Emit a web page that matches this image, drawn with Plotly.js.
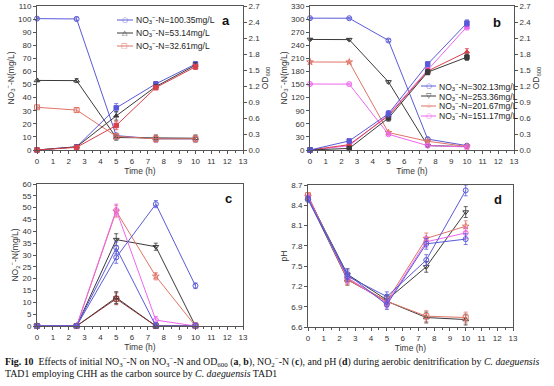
<!DOCTYPE html>
<html><head><meta charset="utf-8">
<script src="https://cdn.plot.ly/plotly-3.0.1.min.js"></script>
<style>html,body{margin:0;padding:0;background:#fff;}#chart{width:554px;height:386px;}</style>
</head><body><div id="chart"></div>
<script>
// ---- data ----
const time = [0, 2.5, 5, 7.5, 10];
const xTicks = [0,1,2,3,4,5,6,7,8,9,10,11,12,13];

// panel a: NO3--N (mg/L) and OD600
const aNames = ['NO<sub>3</sub><sup>−</sup>-N=100.35mg/L','NO<sub>3</sub><sup>−</sup>-N=53.14mg/L','NO<sub>3</sub><sup>−</sup>-N=32.61mg/L'];
const aNO3_100 = [100.35, 100.1, 11, 8.5, 8.5];
const aNO3_53  = [53.14, 53.0, 9.5, 9, 9];
const aNO3_32  = [32.61, 30.5, 10.5, 8.5, 8.5];
const aNO3Err  = [1, 1.5, 2, 2.5, 2.5];
const aOD_100  = [0, 0.06, 0.79, 1.24, 1.61];
const aOD_53   = [0, 0.06, 0.64, 1.19, 1.59];
const aOD_32   = [0, 0.05, 0.46, 1.17, 1.56];
const aODErr   = [0.01, 0.02, 0.08, 0.04, 0.05];

// panel b
const bNames = ['NO<sub>3</sub><sup>−</sup>-N=302.13mg/L','NO<sub>3</sub><sup>−</sup>-N=253.36mg/L','NO<sub>3</sub><sup>−</sup>-N=201.67mg/L','NO<sub>3</sub><sup>−</sup>-N=151.17mg/L'];
const bNO3_302 = [302.13, 302, 251, 25, 10];
const bNO3_253 = [253.36, 253, 156, 10, 8];
const bNO3_201 = [201.67, 201.5, 40, 20, 8];
const bNO3_151 = [151.17, 151, 36, 10, 7];
const bNO3Err  = [2, 2, 3, 3, 2];
const bOD_302  = [0, 0.17, 0.68, 1.61, 2.38];
const bOD_253  = [0, 0.03, 0.60, 1.46, 1.74];
const bOD_201  = [0, 0.10, 0.64, 1.48, 1.84];
const bOD_151  = [0, 0.08, 0.66, 1.50, 2.31];
const bODErr   = [0.01, 0.03, 0.06, 0.05, 0.06];

// panel c: NO2--N (mg/L)
const cNO2_100 = [0, 0, 33, 0, 0];
const cNO2_53  = [0, 0, 12, 0, 0];
const cNO2_32  = [0, 0, 11.5, 0, 0];
const cNO2_302 = [0, 0, 29, 51.5, 17];
const cNO2_253 = [0, 0, 36.5, 33.5, 0];
const cNO2_201 = [0, 0, 48.5, 21, 0];
const cNO2_151 = [0, 0, 49, 2.5, 0];
const cErr     = [0, 0, 2.5, 1.5, 1.2];

// panel d: pH
const dPH_100 = [8.50, 7.35, 7.05, 7.59, 8.62];
const dPH_53  = [8.50, 7.30, 6.98, 6.74, 6.71];
const dPH_32  = [8.55, 7.30, 6.98, 6.76, 6.74];
const dPH_302 = [8.48, 7.38, 6.93, 7.83, 7.90];
const dPH_253 = [8.52, 7.38, 7.00, 7.49, 8.30];
const dPH_201 = [8.53, 7.32, 6.98, 7.91, 8.09];
const dPH_151 = [8.52, 7.33, 6.95, 7.86, 7.99];
const dErr    = [0.03, 0.08, 0.07, 0.08, 0.08];

// ---- styles ----
const BLUE='#5a5ad8', BLACK='#3a3a3a', RED='#e07466', MAG='#ee66ee', RED2='#d9404a';
const FONT='Liberation Sans, Arial, sans-serif';

function tr(x,y,xa,ya,color,symbol,err,filled){
  return {x:x,y:y,xaxis:xa,yaxis:ya,type:'scatter',mode:'lines+markers',showlegend:false,
    line:{color:color,width:1},
    marker:{symbol:filled?symbol:symbol+'-open',size:filled?4.5:5,color:color,line:{color:color,width:1}},
    error_y:{type:'data',array:err,visible:true,color:color,thickness:0.8,width:2},
    cliponaxis:false};
}
const data=[
  // a
  tr(time,aNO3_100,'x','y',BLUE,'circle',aNO3Err),
  tr(time,aNO3_53,'x','y',BLACK,'triangle-up',aNO3Err),
  tr(time,aNO3_32,'x','y',RED,'square',aNO3Err),
  tr(time,aOD_100,'x','y2',BLUE,'square',aODErr,true),
  tr(time,aOD_53,'x','y2',BLACK,'triangle-up',aODErr,true),
  tr(time,aOD_32,'x','y2',RED2,'square',aODErr,true),
  // b
  tr(time,bNO3_302,'x2','y3',BLUE,'circle',bNO3Err),
  tr(time,bNO3_253,'x2','y3',BLACK,'triangle-down',bNO3Err),
  tr(time,bNO3_201,'x2','y3',RED,'star',bNO3Err),
  tr(time,bNO3_151,'x2','y3',MAG,'circle',bNO3Err),
  tr(time,bOD_151,'x2','y4',MAG,'square',bODErr,true),
  tr(time,bOD_201,'x2','y4',RED2,'triangle-up',bODErr,true),
  tr(time,bOD_253,'x2','y4',BLACK,'square',bODErr,true),
  tr(time,bOD_302,'x2','y4',BLUE,'square',bODErr,true),
  // c
  tr(time,cNO2_53,'x3','y5',BLACK,'triangle-up',cErr),
  tr(time,cNO2_32,'x3','y5','#8a3030','square',cErr),
  tr(time,cNO2_253,'x3','y5',BLACK,'triangle-down',cErr),
  tr(time,cNO2_201,'x3','y5',RED,'star',cErr),
  tr(time,cNO2_151,'x3','y5',MAG,'circle',cErr),
  tr(time,cNO2_100,'x3','y5',BLUE,'circle',cErr),
  tr(time,cNO2_302,'x3','y5',BLUE,'circle',cErr),
  // d
  tr(time,dPH_53,'x4','y6',BLACK,'triangle-up',dErr),
  tr(time,dPH_32,'x4','y6',RED,'square',dErr),
  tr(time,dPH_253,'x4','y6',BLACK,'triangle-down',dErr),
  tr(time,dPH_201,'x4','y6',RED,'star',dErr),
  tr(time,dPH_151,'x4','y6',MAG,'circle',dErr),
  tr(time,dPH_302,'x4','y6',BLUE,'circle',dErr),
  tr(time,dPH_100,'x4','y6',BLUE,'circle',dErr)
];

function ax(extra){return Object.assign({
  showline:true,linecolor:'#555',linewidth:1,mirror:true,
  ticks:'outside',ticklen:3,tickcolor:'#555',tickwidth:1,
  showgrid:false,zeroline:false,fixedrange:true,
  tickfont:{family:FONT,size:8,color:'#333'}
},extra);}
const W=554,H=386;
const px=v=>v/W, py=v=>1-v/H;
function xax(dom,anchor){return ax({domain:dom,anchor:anchor,range:[0,13],tickvals:xTicks,
  minor:{dtick:0.5,ticks:'outside',ticklen:2,tickcolor:'#555'},
  title:{text:'Time (h)',font:{family:FONT,size:8.5,color:'#333'},standoff:2}});}
const ttl=(t)=>({text:t,font:{family:FONT,size:8.5,color:'#333'},standoff:2});

const layout={
  width:W,height:H,margin:{l:0,r:0,t:0,b:0},paper_bgcolor:'#fff',plot_bgcolor:'#fff',showlegend:false,
  xaxis:xax([px(37),px(243)],'y'),
  yaxis:ax({domain:[py(150),py(6)],anchor:'x',range:[0,110],dtick:10,mirror:false,title:ttl('NO<sub>3</sub><sup>−</sup>-N(mg/L)')}),
  yaxis2:ax({overlaying:'y',side:'right',anchor:'x',range:[0,2.7],dtick:0.3,tickformat:'.1f',mirror:false,title:ttl('OD<sub>600</sub>')}),
  xaxis2:xax([px(310),px(514)],'y3'),
  yaxis3:ax({domain:[py(150),py(6)],anchor:'x2',range:[0,330],dtick:30,mirror:false,title:ttl('NO<sub>3</sub><sup>−</sup>-N(mg/L)')}),
  yaxis4:ax({overlaying:'y3',side:'right',anchor:'x2',range:[0,2.7],dtick:0.3,tickformat:'.1f',mirror:false,title:ttl('OD<sub>600</sub>')}),
  xaxis3:xax([px(37),px(243)],'y5'),
  yaxis5:ax({domain:[py(326),py(184)],anchor:'x3',range:[0,60],dtick:5,title:ttl('NO<sub>2</sub><sup>−</sup>-N(mg/L)')}),
  xaxis4:xax([px(308),px(513)],'y6'),
  yaxis6:ax({domain:[py(327),py(185)],anchor:'x4',range:[6.6,8.7],dtick:0.3,tickformat:'.1f',title:ttl('pH')}),
  shapes:[],annotations:[]
};

// panel letters
[['a',226,21],['b',497,23],['c',228,198],['d',498,199]].forEach(p=>{
  layout.annotations.push({xref:'paper',yref:'paper',x:px(p[1]),y:py(p[2]),text:'<b>'+p[0]+'</b>',showarrow:false,
    font:{family:FONT,size:13,color:'#111'},xanchor:'center',yanchor:'middle'});
});

// custom legends
function legend(names,colors,syms,x0,x1,ys){
  names.forEach((n,i)=>{
    const y=ys[i];
    layout.shapes.push({type:'line',xref:'paper',yref:'paper',x0:px(x0),x1:px(x1),y0:py(y),y1:py(y),line:{color:colors[i],width:1}});
    layout.annotations.push({xref:'paper',yref:'paper',x:px((x0+x1)/2),y:py(y),text:syms[i],showarrow:false,
      font:{family:'DejaVu Sans',size:7,color:colors[i]},xanchor:'center',yanchor:'middle'});
    layout.annotations.push({xref:'paper',yref:'paper',x:px(x1+1),y:py(y),text:n,showarrow:false,
      font:{family:FONT,size:8.5,color:'#222'},xanchor:'left',yanchor:'middle'});
  });
}
legend(aNames,[BLUE,BLACK,RED],['○','△','□'],117,133,[20,33,46]);
legend(bNames,[BLUE,BLACK,RED,MAG],['○','▽','☆','○'],421,436,[86,96,106,116]);

// caption
const CAP={family:'Liberation Serif, Times New Roman, serif',size:9.9,color:'#111'};
layout.annotations.push({xref:'paper',yref:'paper',x:px(3),y:py(361),xanchor:'left',yanchor:'middle',showarrow:false,font:CAP,
  text:'<b>Fig. 10</b>  Effects of initial NO<sub>3</sub><sup>−</sup>-N on NO<sub>3</sub><sup>−</sup>-N and OD<sub>600</sub> (<b>a</b>, <b>b</b>), NO<sub>2</sub><sup>−</sup>-N (<b>c</b>), and pH (<b>d</b>) during aerobic denitrification by <i>C. daeguensis</i>'});
layout.annotations.push({xref:'paper',yref:'paper',x:px(3),y:py(373),xanchor:'left',yanchor:'middle',showarrow:false,font:CAP,
  text:'TAD1 employing CHH as the carbon source by <i>C. daeguensis</i> TAD1'});

Plotly.newPlot('chart',data,layout,{staticPlot:true,displayModeBar:false});
</script></body></html>
